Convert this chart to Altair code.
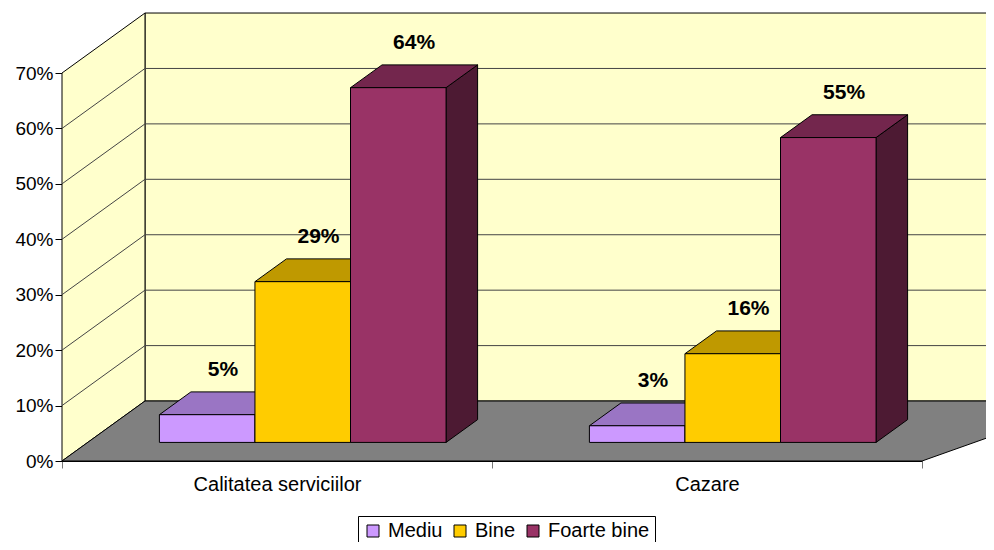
import altair as alt
import pandas as pd

# ---------------- data ----------------
categories = ["Calitatea serviciilor", "Cazare"]
series = ["Mediu", "Bine", "Foarte bine"]
val_mediu = [5, 3]
val_bine = [29, 16]
val_foarte_bine = [64, 55]
y_ticks = [0, 10, 20, 30, 40, 50, 60, 70]

values = {"Mediu": val_mediu, "Bine": val_bine, "Foarte bine": val_foarte_bine}

# ---------------- styles / layout ----------------
front_colors = ["#CC99FF", "#FFCC00", "#993366"]
top_colors = ["#9A75C4", "#BF9900", "#73264D"]
side_colors = ["#664D80", "#806600", "#4D1A33"]
WALL = "#FFFFCC"
FLOOR = "#808080"
FONT = "Liberation Sans"

Y_MAX = 70
N = len(categories)
DX = 0.193      # depth projection along x (category units)
DY = 10.82      # depth projection along y (percent units)
W = 1 / 4.5     # bar width (gap width 150%)
G = 0.75 * W
F1, F2 = 0.31, 0.69   # bar front / back depth fractions

# ---------------- geometry tables ----------------
fronts, tops, sides, labels = [], [], [], []
for ci, cat in enumerate(categories):
    for si, s in enumerate(series):
        v = values[s][ci]
        left = ci + G + si * W
        right = left + W
        bid = f"{ci}-{si}"
        fronts.append(dict(x=left + F1 * DX, x2=right + F1 * DX, y=F1 * DY, y2=v + F1 * DY, series=s))
        tops.append(dict(id=bid, y=v + F1 * DY, x=left + F1 * DX, x2=right + F1 * DX, fill=top_colors[si]))
        tops.append(dict(id=bid, y=v + F2 * DY, x=left + F2 * DX, x2=right + F2 * DX, fill=top_colors[si]))
        sides.append(dict(id=bid, x=right + F1 * DX, y=F1 * DY, y2=v + F1 * DY, fill=side_colors[si]))
        sides.append(dict(id=bid, x=right + F2 * DX, y=F2 * DY, y2=v + F2 * DY, fill=side_colors[si]))
        labels.append(dict(x=(left + right) / 2 + 0.5 * DX, y=v + 0.5 * DY, text=f"{v}%"))

back_wall = pd.DataFrame([dict(x=DX, x2=N + DX + 0.2, y=DY, y2=Y_MAX + DY)])
left_wall = pd.DataFrame([dict(x=0, y=0, y2=Y_MAX), dict(x=DX, y=DY, y2=Y_MAX + DY)])
floor = pd.DataFrame([dict(y=0, x=0, x2=N), dict(y=DY, x=DX, x2=N + DX + 0.2)])
grid = []
for t in y_ticks[1:-1]:
    grid.append(dict(t=t, o=0, x=0, y=t))
    grid.append(dict(t=t, o=1, x=DX, y=t + DY))
    grid.append(dict(t=t, o=2, x=N + DX + 0.2, y=t + DY))

xs = alt.Scale(domain=[0, N], nice=False, zero=False)
ys = alt.Scale(domain=[0, Y_MAX], nice=False, zero=False)

cat_ticks = [i * 0.5 for i in range(2 * N + 1)]
label_expr = " : ".join(
    [f"datum.value == {ci + 0.5} ? '{c}'" for ci, c in enumerate(categories)]
) + " : ''"

x_axis = alt.Axis(
    values=cat_ticks, labelExpr=label_expr, title=None, grid=False,
    tickOpacity={"condition": {"test": "datum.value % 1 == 0", "value": 1}, "value": 0},
    tickColor="#777777", tickSize=7, domainColor="#000000",
    labelFont=FONT, labelFontSize=20, labelColor="#000000", labelPadding=6,
    labelOverlap=False, labelFlush=False, labelBound=False,
)
y_axis = alt.Axis(
    values=y_ticks, labelExpr="datum.value + '%'", title=None, grid=False,
    tickColor="#000000", tickSize=7, domainColor="#000000",
    labelFont=FONT, labelFontSize=19, labelColor="#000000", labelPadding=2,
)


def X(field="x"):
    return alt.X(f"{field}:Q", scale=xs, axis=x_axis)


def Y(field="y"):
    return alt.Y(f"{field}:Q", scale=ys, axis=y_axis)


base_wall = alt.Chart(back_wall).mark_rect(fill=WALL, stroke="#000000", strokeWidth=1).encode(
    x=X(), x2="x2", y=Y(), y2="y2"
)
left = alt.Chart(left_wall).mark_area(orient="vertical", fill=WALL, stroke="#000000", strokeWidth=1).encode(
    x=X(), y=Y(), y2="y2"
)
grid_lines = alt.Chart(pd.DataFrame(grid)).mark_line(color="#444444", strokeWidth=1).encode(
    x=X(), y=Y(), detail="t:N", order="o:Q"
)
floor_layer = alt.Chart(floor).mark_area(orient="horizontal", fill=FLOOR, stroke="#000000", strokeWidth=1).encode(
    y=Y(), x=X(), x2="x2"
)
side_layer = alt.Chart(pd.DataFrame(sides)).mark_area(orient="vertical", stroke="#000000", strokeWidth=1).encode(
    x=X(), y=Y(), y2="y2", detail="id:N", fill=alt.Fill("fill:N", scale=None)
)
top_layer = alt.Chart(pd.DataFrame(tops)).mark_area(orient="horizontal", stroke="#000000", strokeWidth=1).encode(
    y=Y(), x=X(), x2="x2", detail="id:N", fill=alt.Fill("fill:N", scale=None)
)
front_layer = alt.Chart(pd.DataFrame(fronts)).mark_rect(stroke="#000000", strokeWidth=1).encode(
    x=X(), x2="x2", y=Y(), y2="y2",
    color=alt.Color(
        "series:N",
        scale=alt.Scale(domain=series, range=front_colors),
        legend=alt.Legend(
            orient="none", legendX=296, legendY=443, direction="horizontal", title=None,
            strokeColor="#000000", fillColor="#FFFFFF", padding=5,
            symbolType="square", symbolSize=144, symbolStrokeColor="#000000",
            symbolStrokeWidth=1, symbolOpacity=1,
            labelFont=FONT, labelFontSize=20, labelColor="#000000", labelOffset=5,
            columnPadding=7,
        ),
    ),
)
label_layer = alt.Chart(pd.DataFrame(labels)).mark_text(
    font=FONT, fontSize=21, fontWeight="bold", color="#000000", baseline="middle", dy=-33
).encode(x=X(), y=Y(), text="text:N")

chart = alt.layer(
    base_wall, left, grid_lines, floor_layer, side_layer, top_layer, front_layer, label_layer
).properties(
    width=860, height=388,
    autosize=alt.AutoSizeParams(type="none"),
    padding={"left": 54, "top": 65, "right": 64, "bottom": 81},
    background="#FFFFFF",
).configure_view(stroke=None)

chart.save("out.html", embed_options={"renderer": "svg", "actions": False})
